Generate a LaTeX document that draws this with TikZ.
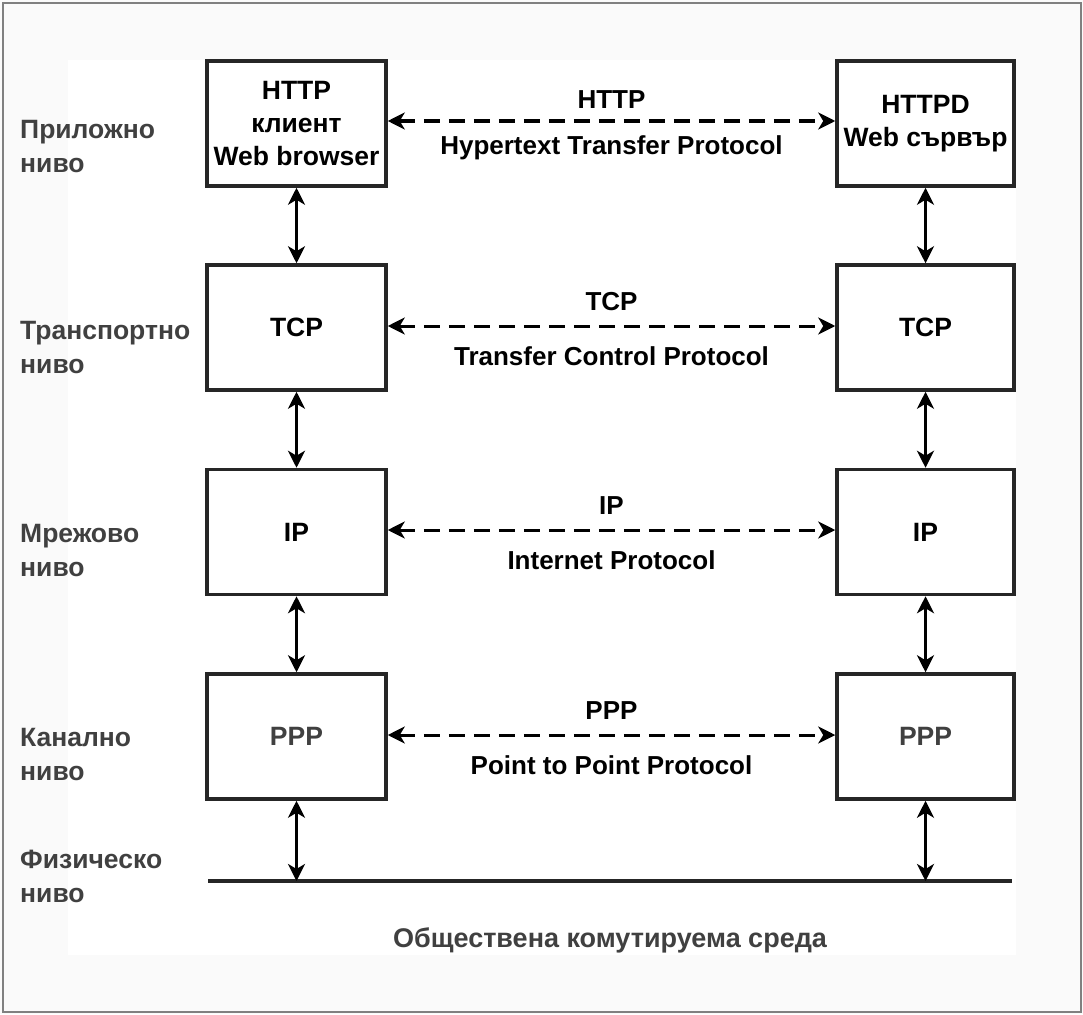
\documentclass[tikz,border=0pt]{standalone}
\usepackage{fontspec}
\setmainfont{Liberation Sans}
\usetikzlibrary{arrows.meta}
\definecolor{lbl}{HTML}{404040}
\definecolor{outerbg}{HTML}{FAFAFA}
\tikzset{
  tip/.style={Stealth[length=17pt,width=17pt,inset=5pt]},
  layerbox/.style={draw=black!85, line width=3.5pt, fill=white, minimum width=179pt, minimum height=125pt, align=center, font=\fontsize{26.5}{33}\selectfont\bfseries, inner sep=0pt},
  vlink/.style={line width=3pt, {Stealth[length=17pt,width=17pt,inset=5pt]}-{Stealth[length=17pt,width=17pt,inset=5pt]}},
  hlink/.style={line width=3pt, dash pattern=on 16pt off 9pt, {Stealth[length=17pt,width=17pt,inset=5pt]}-{Stealth[length=17pt,width=17pt,inset=5pt]}},
  plabel/.style={font=\fontsize{26}{30}\selectfont\bfseries, inner sep=0pt},
  layerlabel/.style={anchor=west, align=left, text=lbl, font=\fontsize{26.5}{34}\selectfont\bfseries, inner sep=0pt},
}
\begin{document}
\begin{tikzpicture}[x=1pt,y=-1pt]
\useasboundingbox (0,0) rectangle (1083,1014);
\fill[outerbg] (0,0) rectangle (1083,1014);
\draw[gray, line width=1.2pt] (3,3) rectangle (1081,1012);
\fill[white] (68,60) rectangle (1016,955);

% boxes
\node[layerbox] (c1) at (296.5,123.5) {HTTP\\клиент\\Web browser};
\node[layerbox, minimum width=177pt] (s1) at (925.5,123.5) {HTTPD\\Web сървър};
\node[layerbox] (c2) at (296.5,327.5) {TCP};
\node[layerbox, minimum width=177pt] (s2) at (925.5,327.5) {TCP};
\node[layerbox] (c3) at (296.5,532) {IP};
\node[layerbox, minimum width=177pt] (s3) at (925.5,532) {IP};
\node[layerbox, text=lbl] (c4) at (296.5,736.5) {PPP};
\node[layerbox, minimum width=177pt, text=lbl] (s4) at (925.5,736.5) {PPP};

% physical medium line
\coordinate (m1) at (208,881);
\coordinate (m2) at (1012,881);
\coordinate (g1) at (296.5,881);
\coordinate (g2) at (925.5,881);
\draw[line width=3.5pt, black!85] (m1) -- (m2);

% vertical links
\draw[vlink] (c1) -- (c2);
\draw[vlink] (c2) -- (c3);
\draw[vlink] (c3) -- (c4);
\draw[vlink] (c4) -- (g1);
\draw[vlink] (s1) -- (s2);
\draw[vlink] (s2) -- (s3);
\draw[vlink] (s3) -- (s4);
\draw[vlink] (s4) -- (g2);

% horizontal peer links
\draw[hlink] (c1.east |- 0,121) -- node[plabel, above=11pt]{HTTP} node[plabel, below=13pt]{Hypertext Transfer Protocol} (s1.west |- 0,121);
\draw[hlink] (c2.east |- 0,326) -- node[plabel, above=14pt]{TCP} node[plabel, below=19pt]{Transfer Control Protocol} (s2.west |- 0,326);
\draw[hlink] (c3.east |- 0,530) -- node[plabel, above=14pt]{IP} node[plabel, below=19pt]{Internet Protocol} (s3.west |- 0,530);
\draw[hlink] (c4.east |- 0,735) -- node[plabel, above=14pt]{PPP} node[plabel, below=19pt]{Point to Point Protocol} (s4.west |- 0,735);

% layer labels
\node[layerlabel] (L1) at (20,147) {Приложно\\ниво};
\node[layerlabel] (L2) at (20,348) {Транспортно\\ниво};
\node[layerlabel] (L3) at (20,551) {Мрежово\\ниво};
\node[layerlabel] (L4) at (20,755) {Канално\\ниво};
\node[layerlabel] (L5) at (20,876) {Физическо\\ниво};

\node[text=lbl, font=\fontsize{27}{30}\selectfont\bfseries, inner sep=0pt] (medium) at (610,940) {Обществена комутируема среда};
\end{tikzpicture}
\end{document}
